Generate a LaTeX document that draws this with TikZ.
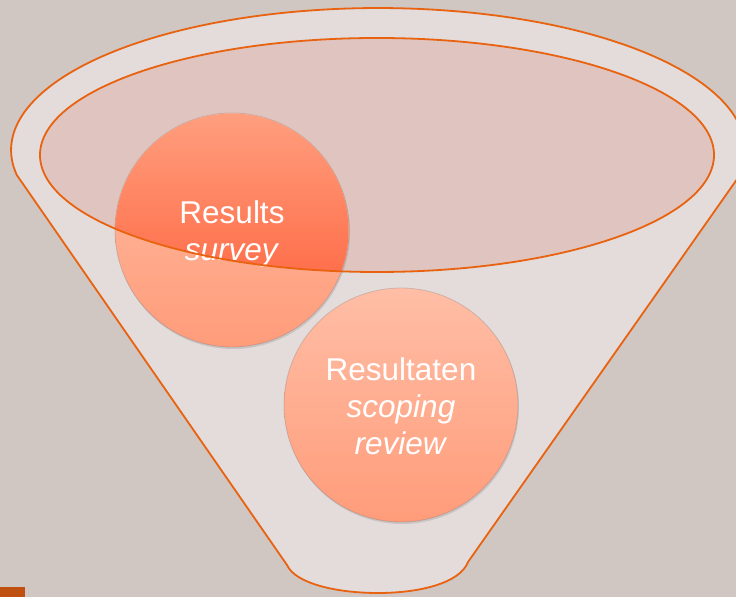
\documentclass[tikz,border=0pt]{standalone}
\usepackage{fontspec}
\setmainfont{Liberation Sans}
\usetikzlibrary{shadows}
\definecolor{bgc}{HTML}{D0C7C3}
\definecolor{bodyc}{HTML}{E3DCDB}
\definecolor{rimc}{HTML}{E8620F}
\definecolor{bowlc}{HTML}{DFC4BF}
\definecolor{ctop}{HTML}{FFBEA6}
\definecolor{cbot}{HTML}{FF9C7A}
\definecolor{dtop}{HTML}{FF9E7E}
\definecolor{dbot}{HTML}{FF5A34}
\definecolor{tabc}{HTML}{BF5010}
\tikzset{
  ball/.style={circle, minimum size=234pt, inner sep=0pt, top color=ctop, bottom color=cbot,
    draw=black!60, draw opacity=0.25, line width=0.8pt,
    drop shadow={shadow xshift=1pt, shadow yshift=-2pt, opacity=0.25}},
  balltext/.style={text=white, align=center, font=\fontsize{31.5pt}{37pt}\selectfont},
  rim/.style={draw=rimc, line width=1.8pt}
}
\begin{document}
\begin{tikzpicture}[x=1pt,y=1pt]
\useasboundingbox (0,0) rectangle (736,597);
\fill[bgc] (0,0) rectangle (736,597);
% funnel body
\coordinate (rt) at (737.8,418.9);
\coordinate (lt) at (16.7,422.1);
\coordinate (lb) at (287,32);
\coordinate (bm) at (378,4);
\coordinate (rb) at (468,35);
\filldraw[fill=bodyc, rim] (rt) arc[start angle=-11.4, end angle=190.1, x radius=367, y radius=142]
  -- (lb) .. controls (295,14) and (335,4) .. (bm) .. controls (420,4) and (460,14) .. (rb) -- cycle;
% bowl
\coordinate (bc) at (377,442);
\fill[bowlc] (bc) ellipse [x radius=337, y radius=117];
% circles
\node[ball] (c1) at (232,367) {};
\begin{scope}
  \clip (bc) ellipse [x radius=337, y radius=117];
  \shade[top color=dtop, bottom color=dbot] (c1.center) circle (116.5);
\end{scope}
\node[ball] (c2) at (401,192) {};
\node[balltext] (t1) at ([yshift=-4pt]c1.center) {Results\\\textit{survey}};
\node[balltext] (t2) at ([yshift=-1pt]c2.center) {Resultaten\\\textit{scoping}\\\textit{review}};
% bowl rim
\draw[rim] (bc) ellipse [x radius=337, y radius=117];
% tab
\fill[tabc] (0,0) rectangle (25,10);
\end{tikzpicture}
\end{document}
